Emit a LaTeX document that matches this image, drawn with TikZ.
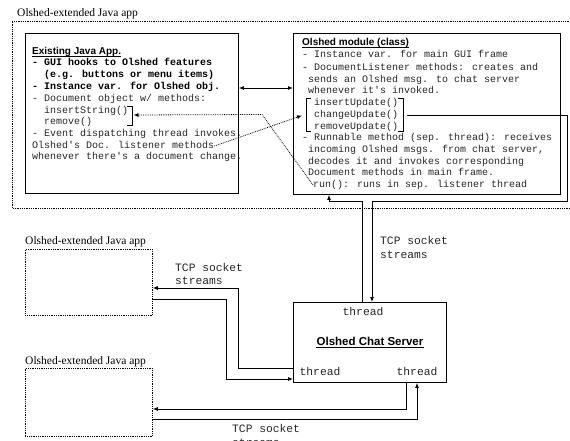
\documentclass[tikz,border=0pt]{standalone}
\usepackage{fontspec}
\setmainfont{Liberation Serif}
\newfontfamily\monof{Liberation Mono}
\newfontfamily\sansf{Liberation Sans}
\usetikzlibrary{arrows.meta}
\begin{document}
\begin{tikzpicture}[x=1pt,y=-1pt,
  mono/.style={font=\monof\fontsize{10}{12}\selectfont, inner sep=0pt, anchor=west, text height=7pt, text depth=2pt, text=black!85},
  monob/.style={mono, font=\monof\bfseries\fontsize{10}{12}\selectfont, text=black},
  title/.style={font=\sansf\bfseries\fontsize{10}{12}\selectfont, inner sep=0pt, anchor=west, text height=7.5pt, text depth=1.6pt},
  bigmono/.style={font=\monof\fontsize{11.3}{14}\selectfont, inner sep=0pt, text height=7.5pt, text depth=2.5pt, text=black!85},
  lab/.style={font=\fontsize{11.5}{13}\selectfont, inner sep=0pt, anchor=west},
  box/.style={draw, line width=0.9pt, inner sep=0pt, anchor=north west},
  dbox/.style={draw, densely dotted, line width=0.8pt, inner sep=0pt, anchor=north west},
  conn/.style={draw, line width=0.8pt},
  dconn/.style={draw, densely dotted, line width=0.8pt},
  uline/.style={draw, line width=0.6pt},
  arr/.style={-{Latex[length=5pt,width=4pt]}},
  darr/.style={{Latex[length=5pt,width=4pt]}-{Latex[length=5pt,width=4pt]}}
]
\useasboundingbox (0,0) rectangle (570,441);

% outer dotted frame (right side outside the picture)
\node[lab] (toplab) at (17,14) {Olshed-extended Java app};
\coordinate (fr1) at (580,21);
\coordinate (fr2) at (12,21);
\coordinate (fr3) at (12,208);
\coordinate (fr4) at (580,208);
\draw[dconn] (fr1) -- (fr2) -- (fr3) -- (fr4);

% Existing Java App box
\node[box, minimum width=213pt, minimum height=160pt] (exist) at (25,33) {};
\node[title] (e0) at (32,52) {Existing Java App.};
\draw[uline] (e0.south west) -- (e0.south east);
\node[monob] (e1) at (32,63) {- GUI hooks to Olshed features};
\node[monob] (e2) at (44,75) {(e.g. buttons or menu items)};
\node[monob] (e3) at (32,87) {- Instance var. for Olshed obj.};
\node[mono] (e4) at (32,99) {- Document object w/ methods:};
\node[mono] (e5) at (44,111) {insertString()};
\node[mono] (e6) at (44,122) {remove()};
\node[mono] (e7) at (32,134) {- Event dispatching thread invokes.};
\node[mono] (e8) at (32,146) {Olshed's Doc. listener methods};
\node[mono] (e9) at (32,157) {whenever there's a document change.};
% bracket
\draw[line width=0.9pt] (127,106.5) -- (132,106.5) -- (132,125.5) -- (127,125.5);
\coordinate (ebr) at (133.5,115);

% Olshed module box
\node[box, minimum width=267pt, minimum height=161pt] (olshed) at (293,33) {};
\node[title] (o0) at (302,43) {Olshed module (class)};
\draw[uline] (o0.south west) -- (o0.south east);
\node[mono] (o1) at (302,55) {- Instance var. for main GUI frame};
\node[mono] (o2) at (302,68) {- DocumentListener methods: creates and};
\node[mono] (o3) at (308,80) {sends an Olshed msg. to chat server};
\node[mono] (o4) at (308,91) {whenever it's invoked.};
\node[mono] (o5) at (314,103) {insertUpdate()};
\node[mono] (o6) at (314,115) {changeUpdate()};
\node[mono] (o7) at (314,127) {removeUpdate()};
\node[mono] (o8) at (302,138) {- Runnable method (sep. thread): receives};
\node[mono] (o9) at (308,150) {incoming Olshed msgs. from chat server,};
\node[mono] (o10) at (308,162) {decodes it and invokes corresponding};
\node[mono] (o11) at (308,173) {Document methods in main frame.};
\node[mono] (o12) at (313,185) {run(): runs in sep. listener thread};
% brackets
\draw[line width=0.9pt] (311,98.5) -- (306,98.5) -- (306,131.5) -- (311,131.5);
\draw[line width=0.9pt] (398,98.5) -- (403,98.5) -- (403,131.5) -- (398,131.5);
\coordinate (obl) at (302,115.5);
\coordinate (obr) at (407,115);

% double arrow between boxes
\coordinate (ha) at (0,88);
\draw[conn, darr] (exist.east |- ha) -- (olshed.west |- ha);

% dotted connectors
\draw[dconn, arr] (e8.east) -- (obl);
\coordinate (dk) at (262,114.5);
\draw[dconn, arr] (o12.west) -- (dk) -- (ebr);

% Chat server
\node[box, minimum width=153pt, minimum height=80pt] (server) at (293,302) {};
\node[bigmono] (st) at (363,313) {thread};
\node[font=\sansf\bfseries\fontsize{11.5}{14}\selectfont, inner sep=0pt, text height=8.5pt, text depth=1.8pt] (sname) at (370,342) {Olshed Chat Server};
\draw[uline] (sname.south west) -- (sname.south east);
\node[bigmono] (sl) at (320,373) {thread};
\node[bigmono] (sr) at (417,373) {thread};

% top connectors
\coordinate (pA) at (372,0);
\coordinate (pB) at (362,0);
\coordinate (pC) at (329,0);
\coordinate (c1) at (567,115);
\coordinate (c2) at (567,201);
\coordinate (c3) at (372,201);
\coordinate (c4) at (362,201);
\coordinate (c5) at (329,201);
\draw[conn, arr] (obr) -- (c1) -- (c2) -- (c3) -- (server.north -| pA);
\draw[conn, arr] (server.north -| pB) -- (c4) -- (c5) -- (olshed.south -| pC);
\node[bigmono, anchor=west] (tcp1a) at (380,242) {TCP socket};
\node[bigmono, anchor=west] (tcp1b) at (380,256) {streams};

% lower-left apps
\node[lab] (lab1) at (25,242) {Olshed-extended Java app};
\node[dbox, minimum width=127pt, minimum height=66pt] (app1) at (25,249) {};
\node[lab] (lab2) at (25,362) {Olshed-extended Java app};
\node[dbox, minimum width=127pt, minimum height=68pt] (app2) at (25,368) {};

% left connectors
\coordinate (ya) at (0,368);
\coordinate (yb) at (0,288);
\coordinate (yc) at (0,299);
\coordinate (yd) at (0,379);
\coordinate (a1) at (238,368);
\coordinate (a2) at (238,288);
\coordinate (b1) at (226,299);
\coordinate (b2) at (226,379);
\draw[conn, arr] (server.west |- ya) -- (a1) -- (a2) -- (app1.east |- yb);
\draw[conn, arr] (app1.east |- yc) -- (b1) -- (b2) -- (server.west |- yd);
\node[bigmono, anchor=west] (tcp2a) at (175,269) {TCP socket};
\node[bigmono, anchor=west] (tcp2b) at (175,282) {streams};

% bottom connectors
\coordinate (xc) at (406,0);
\coordinate (xd) at (417,0);
\coordinate (d1) at (406,409);
\coordinate (d2) at (417,419);
\coordinate (ye) at (0,409);
\coordinate (yf) at (0,419);
\draw[conn, arr] (server.south -| xc) -- (d1) -- (app2.east |- ye);
\draw[conn, arr] (app2.east |- yf) -- (d2) -- (server.south -| xd);
\node[bigmono, anchor=west] (tcp3a) at (232,430) {TCP socket};
\node[bigmono, anchor=west] (tcp3b) at (232,444) {streams};
\end{tikzpicture}
\end{document}
